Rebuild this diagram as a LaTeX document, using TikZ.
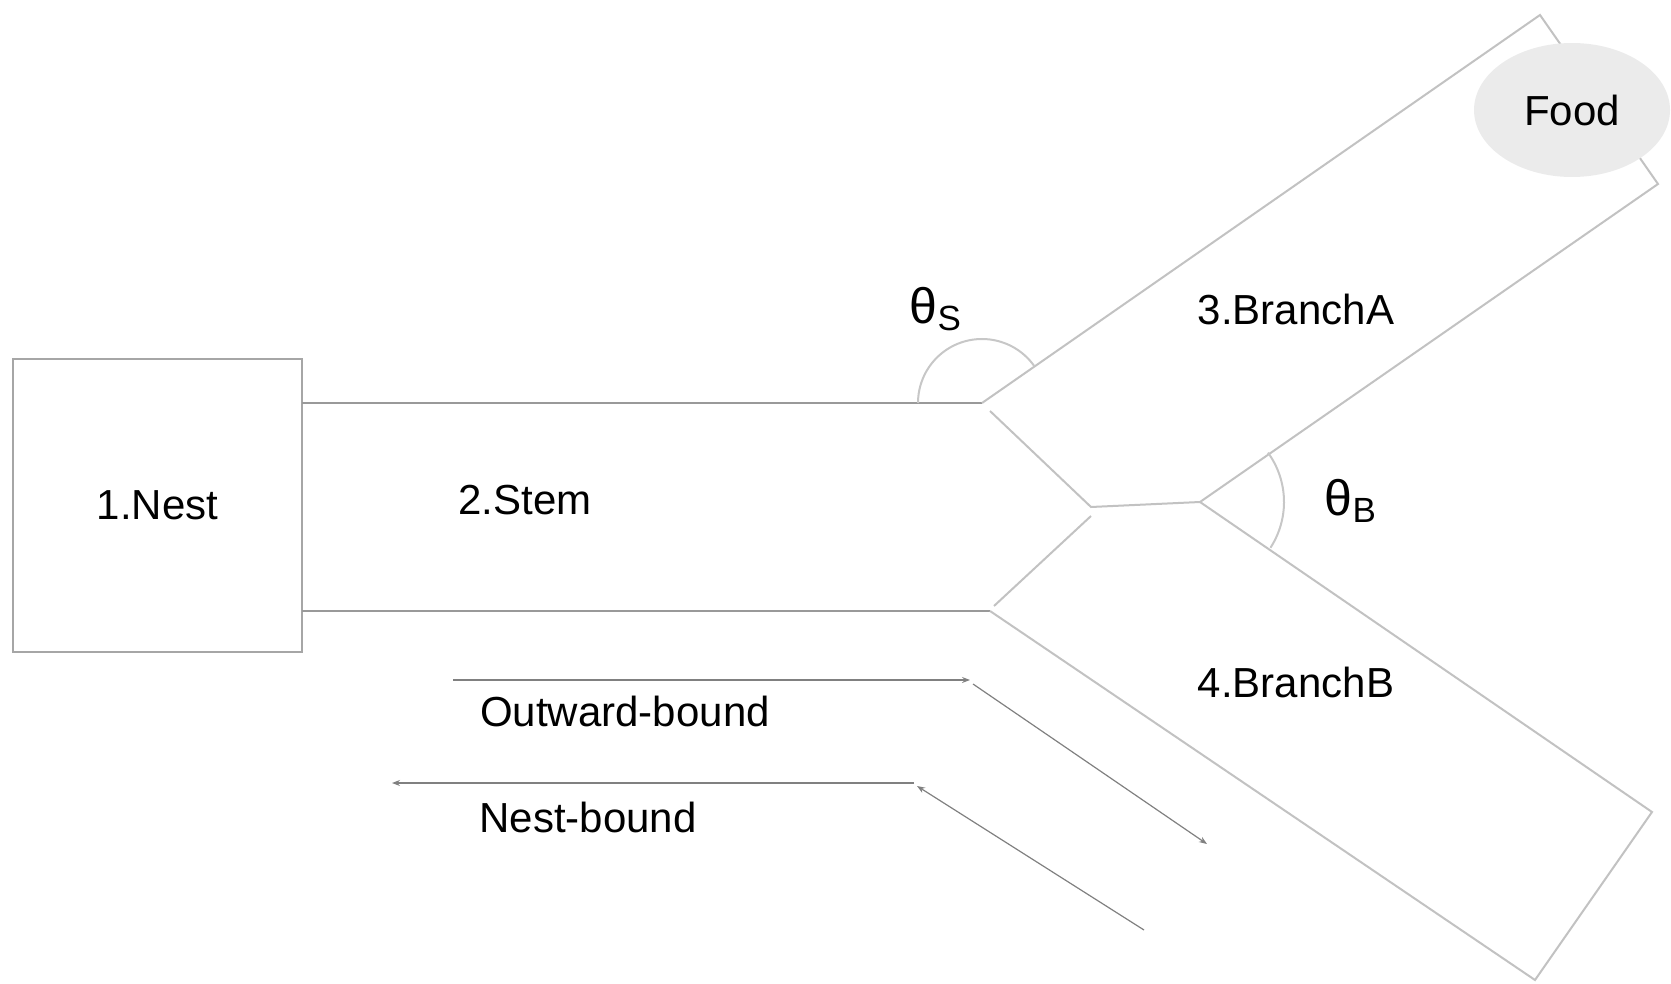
\documentclass[tikz,border=0pt]{standalone}
\usepackage{fontspec}
\setmainfont{Liberation Sans}
\usetikzlibrary{shapes.geometric,arrows.meta}

\begin{document}
\begin{tikzpicture}[x=0.5pt,y=-0.5pt]
  \tikzstyle{wall}   = [draw=black!24,line width=1pt]
  \tikzstyle{stemw}  = [draw=black!40,line width=1pt]
  \tikzstyle{arcw}   = [draw=black!22,line width=1pt]
  \tikzstyle{nest}   = [rectangle,draw=black!35,line width=1pt,minimum width=144.5pt,minimum height=146.5pt,inner sep=0pt]
  \tikzstyle{food}   = [ellipse,fill=black!8,minimum width=98pt,minimum height=67pt,inner sep=0pt]
  \tikzstyle{lbl}    = [font=\fontsize{21}{25}\selectfont,text=black]
  \tikzstyle{ang}    = [font=\fontsize{25}{30}\selectfont,text=black]
  \tikzstyle{trail}  = [draw=black!50,line width=0.6pt,-{Stealth[length=4pt,width=3pt]}]
  \useasboundingbox (0,0) rectangle (1671,984);
  % nest and stem
  \path (157.5,505.5) node[nest,lbl](nest) {1.Nest};
  \coordinate (st0) at (302,403);
  \coordinate (st1) at (982,403);
  \coordinate (sb0) at (302,611);
  \coordinate (sb1) at (990,611);
  \draw[stemw] (st0) -- (st1);
  \draw[stemw] (sb0) -- (sb1);
  % junction
  \coordinate (ji1) at (990,411);
  \coordinate (ji2) at (1091,507);
  \coordinate (ji3) at (1200,502);
  \coordinate (ji4) at (1091,516);
  \coordinate (ji5) at (994,606);
  \draw[wall] (ji1) -- (ji2) -- (ji3);
  \draw[wall] (ji4) -- (ji5);
  % branch A
  \coordinate (a1) at (1540,15);
  \coordinate (a2) at (1658,184);
  \draw[wall] (st1) -- (a1) -- (a2) -- (ji3);
  % branch B
  \coordinate (b1) at (1652,812);
  \coordinate (b2) at (1535,980);
  \draw[wall] (ji3) -- (b1) -- (b2) -- (sb1);
  % angles
  \draw[arcw] ([shift={(180:32pt)}]st1) arc[start angle=180,end angle=35,radius=32pt];
  \draw[arcw] ([shift={(36:42pt)}]ji3) arc[start angle=36,end angle=-33,radius=42pt];
  \path (936,309) node[ang](thS) {θ\textsubscript{S}};
  \path (1351,501) node[ang](thB) {θ\textsubscript{B}};
  % labels
  \path (525,500) node[lbl](stem) {2.Stem};
  \path (1296,309) node[lbl](brA) {3.BranchA};
  \path (1296,682) node[lbl](brB) {4.BranchB};
  \path (1572,110) node[food,lbl](food) {Food};
  % trails
  \coordinate (o0) at (453,680);
  \coordinate (o1) at (970,680);
  \coordinate (o2) at (973,684);
  \coordinate (o3) at (1207,844);
  \coordinate (n0) at (914,783);
  \coordinate (n1) at (392,783);
  \coordinate (n2) at (1144,930);
  \coordinate (n3) at (917,786);
  \draw[trail] (o0) -- (o1);
  \draw[trail] (o2) -- (o3);
  \draw[trail] (n0) -- (n1);
  \draw[trail] (n2) -- (n3);
  \path (625,711) node[lbl](outw) {Outward-bound};
  \path (588,817) node[lbl](home) {Nest-bound};
\end{tikzpicture}
\end{document}
